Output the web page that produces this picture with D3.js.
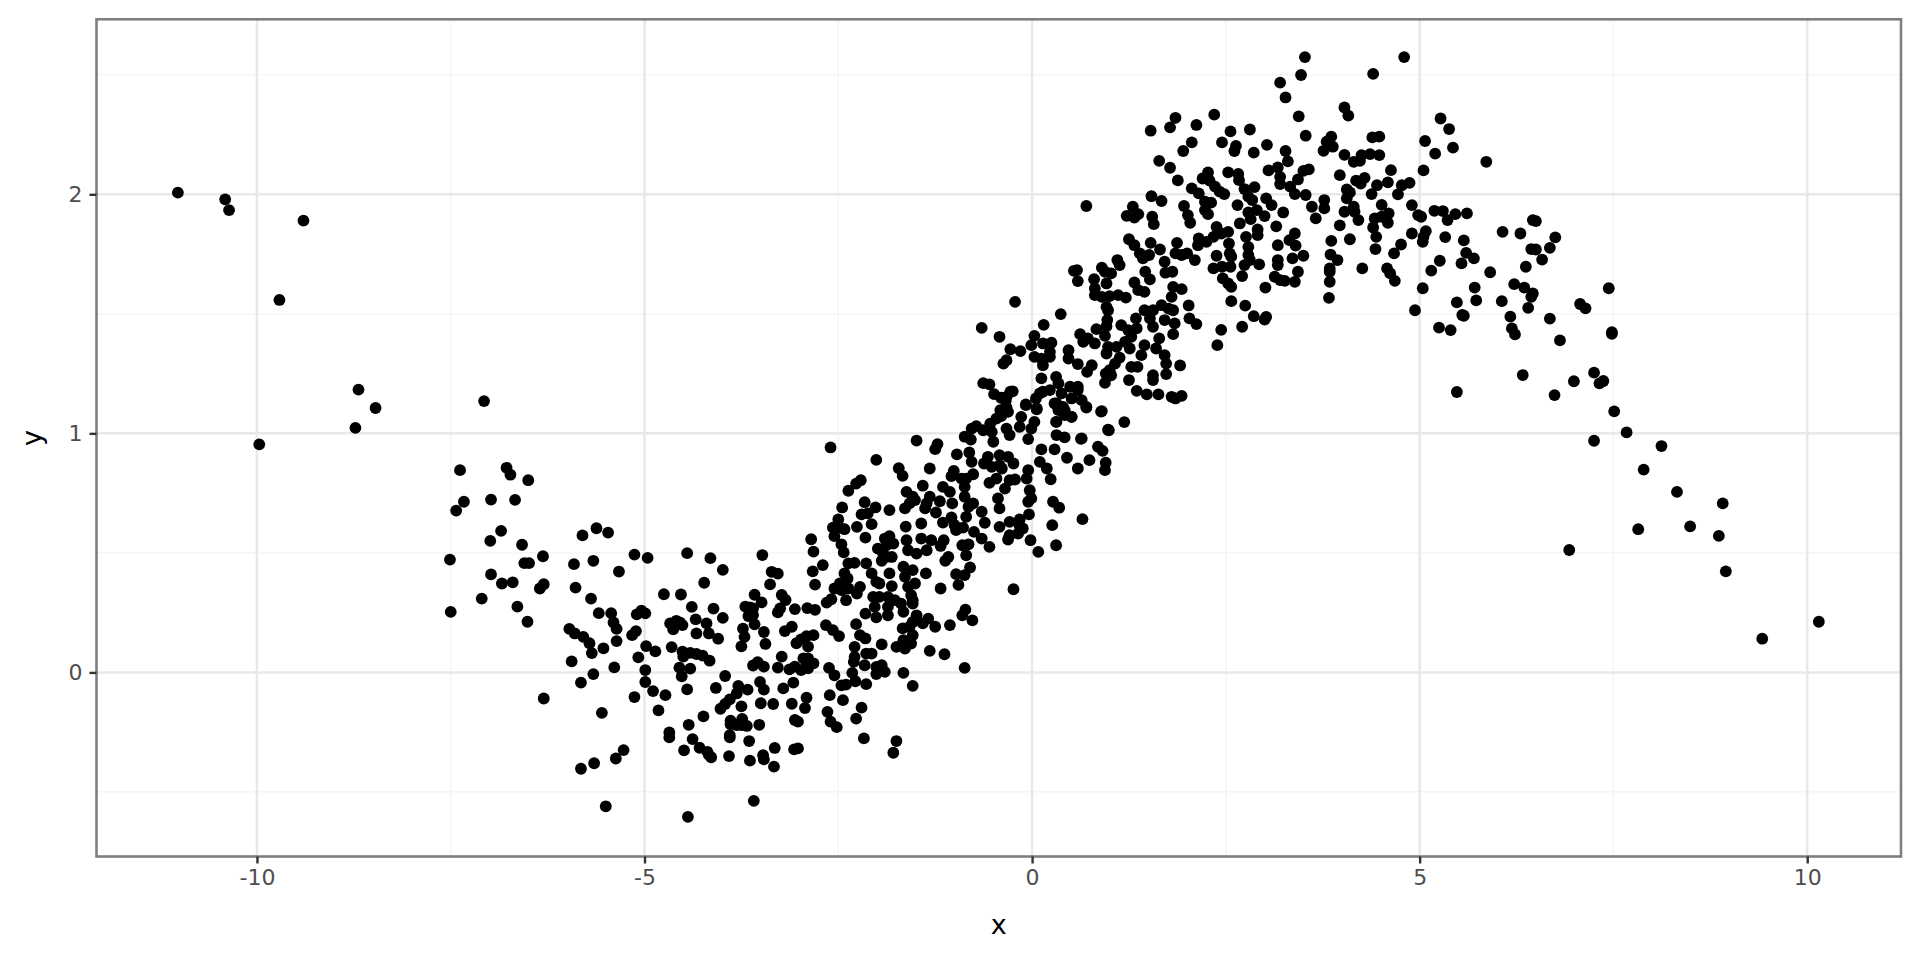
<!DOCTYPE html>
<html><head><meta charset="utf-8"><style>html,body{margin:0;padding:0;background:#fff}svg{display:block}text{font-family:"DejaVu Sans",sans-serif}</style>
<script src="https://cdn.jsdelivr.net/npm/d3@7"></script></head><body><div id="c"></div>
<script>
const xMajor=[-10,-5,0,5,10], xMinor=[-7.5,-2.5,2.5,7.5];
const yMajor=[0,1,2], yMinor=[-0.5,0.5,1.5,2.5];
const xDomain=[-12.07,11.21], yDomain=[-0.77,2.732];
const farLeft=[[-11.02,2.007],[-10.41,1.979],[-10.36,1.934],[-9.40,1.890],[-9.71,1.558],[-8.69,1.183],[-8.47,1.106],[-8.73,1.023],[-9.97,0.954],[-7.07,1.135],[-7.38,0.846],[-6.78,0.856],[-6.73,0.827],[-6.50,0.804],[-7.33,0.714],[-7.43,0.677],[-6.98,0.723],[-6.67,0.722],[-6.85,0.592],[-6.99,0.550],[-6.58,0.534],[-7.51,0.472],[-6.31,0.486],[-6.55,0.457],[-6.49,0.457],[-6.98,0.410],[-6.84,0.372],[-6.70,0.377],[-6.30,0.369],[-6.35,0.351],[-7.10,0.309],[-7.50,0.253],[-6.64,0.275],[-6.51,0.212],[-6.30,-0.109]];
const troughTop=[[-5.80,0.573],[-5.62,0.603],[-5.47,0.585],[-5.13,0.493],[-4.96,0.479],[-4.45,0.499],[-4.15,0.478],[-3.99,0.429],[-4.23,0.375],[-5.91,0.453],[-5.66,0.467],[-5.33,0.422],[-5.89,0.355],[-5.69,0.309],[-4.75,0.327],[-4.53,0.326],[-3.58,0.325],[-3.49,0.293],[-3.70,0.275],[-3.64,0.272],[-3.60,0.268],[-3.66,0.236],[-3.60,0.240],[-3.58,0.201],[-3.73,0.183],[-3.71,0.149],[-3.75,0.109],[-3.46,0.169],[-3.44,0.119],[-3.48,0.491],[-3.36,0.421],[-3.28,0.413],[-3.38,0.368],[-3.23,0.324],[-3.18,0.303],[-3.25,0.268],[-3.28,0.251],[-3.06,0.265],[-2.90,0.269],[-2.80,0.262],[-3.10,0.191],[-3.19,0.173],[-2.85,0.557],[-2.82,0.505],[-2.83,0.423],[-2.80,0.367]];
const troughMid=[[-5.59,0.248],[-5.43,0.248],[-5.40,0.209],[-5.36,0.182],[-5.04,0.258],[-5.10,0.243],[-4.99,0.247],[-5.97,0.182],[-5.90,0.163],[-5.79,0.149],[-5.71,0.122],[-5.68,0.081],[-5.53,0.101],[-5.36,0.131],[-5.11,0.173],[-5.16,0.156],[-5.94,0.046],[-5.39,0.021],[-5.66,-0.007],[-5.82,-0.043],[-5.55,-0.169],[-5.08,0.063],[-4.98,0.110],[-4.86,0.088],[-4.99,0.010],[-4.99,-0.040],[-4.89,-0.078],[-4.73,-0.095],[-5.13,-0.103],[-4.82,-0.159],[-4.65,0.106],[-4.51,0.087],[-4.50,0.066],[-4.41,0.082],[-4.33,0.077],[-4.25,0.070],[-4.16,0.049],[-4.55,0.020],[-4.41,0.016],[-4.52,-0.016],[-4.45,-0.071],[-4.67,0.205],[-4.59,0.216],[-4.54,0.208],[-4.63,0.180],[-4.51,0.198],[-4.39,0.274],[-4.34,0.222],[-4.20,0.205],[-4.11,0.267],[-3.99,0.228],[-4.33,0.163],[-4.17,0.163],[-4.05,0.141],[-3.04,0.122],[-2.98,0.138],[-2.91,0.152],[-2.82,0.156],[-2.89,0.108],[-3.23,0.066],[-3.60,0.029],[-3.54,0.043],[-3.46,0.024],[-3.28,0.020],[-3.13,0.013],[-3.06,0.024],[-2.95,0.059],[-2.89,0.059],[-2.98,0.010],[-2.89,0.017],[-2.82,0.038],[-2.91,0.038]];
const troughLow=[[-3.96,-0.015],[-4.08,-0.065],[-3.79,-0.056],[-3.67,-0.072],[-3.81,-0.088],[-3.90,-0.113],[-3.96,-0.132],[-4.02,-0.152],[-3.75,-0.142],[-4.24,-0.184],[-4.43,-0.219],[-4.68,-0.251],[-4.68,-0.272],[-4.38,-0.279],[-4.49,-0.326],[-4.29,-0.315],[-4.19,-0.332],[-4.14,-0.355],[-4.17,-0.345],[-3.91,-0.350],[-3.90,-0.272],[-3.90,-0.262],[-3.89,-0.202],[-3.89,-0.217],[-3.81,-0.220],[-3.74,-0.194],[-3.75,-0.220],[-3.68,-0.224],[-3.52,-0.219],[-3.65,-0.287],[-3.64,-0.369],[-3.47,-0.346],[-3.46,-0.364],[-3.32,-0.316],[-3.33,-0.394],[-3.07,-0.322],[-3.02,-0.318],[-3.06,-0.199],[-3.02,-0.206],[-2.93,-0.149],[-2.91,-0.106],[-3.10,-0.131],[-3.34,-0.132],[-3.50,-0.129],[-3.21,-0.067],[-3.08,-0.043],[-3.51,-0.040],[-3.46,-0.072],[-3.59,-0.537],[-5.50,-0.560],[-4.44,-0.604],[-5.82,-0.403],[-5.65,-0.380],[-5.37,-0.360],[-5.27,-0.325],[-2.52,-0.229],[-2.60,-0.206],[-2.17,-0.276],[-1.75,-0.287],[-1.79,-0.336]];
const riseLower=[[-2.60,0.941],[-2.01,0.889],[-1.49,0.970],[-1.22,0.955],[-1.25,0.934],[-1.72,0.854],[-1.67,0.822],[-1.32,0.853],[-2.21,0.804],[-2.27,0.790],[-2.37,0.760],[-1.41,0.781],[-1.62,0.755],[-1.54,0.735],[-1.51,0.721],[-1.58,0.707],[-1.64,0.686],[-2.45,0.690],[-2.16,0.712],[-2.02,0.690],[-2.20,0.661],[-2.12,0.665],[-2.07,0.620],[-1.84,0.679],[-2.50,0.640],[-2.57,0.606],[-2.48,0.606],[-2.42,0.599],[-2.55,0.570],[-2.26,0.609],[-2.15,0.564],[-2.46,0.536],[-2.43,0.502],[-2.70,0.449],[-1.63,0.610],[-1.43,0.623],[-1.84,0.570],[-1.90,0.560],[-1.99,0.518],[-1.88,0.532],[-1.79,0.539],[-1.92,0.497],[-1.88,0.483],[-1.81,0.483],[-1.94,0.467],[-1.62,0.553],[-1.60,0.511],[-1.49,0.497],[-1.43,0.560],[-1.30,0.553],[-1.36,0.511],[-1.14,0.553],[-1.18,0.529],[-1.08,0.483],[-1.12,0.467],[-0.90,0.532],[-0.82,0.536],[-0.85,0.490],[-0.80,0.439],[-0.87,0.407],[-0.98,0.411],[-0.95,0.366],[-1.18,0.351],[-1.37,0.414],[-0.24,0.348],[-0.86,0.263],[-0.90,0.239],[-0.77,0.218],[-1.06,0.198],[-2.37,0.456],[-2.29,0.458],[-2.14,0.456],[-2.42,0.414],[-2.38,0.393],[-2.07,0.414],[-2.01,0.379],[-1.97,0.372],[-1.84,0.414],[-1.66,0.442],[-1.54,0.428],[-1.64,0.400],[-1.60,0.358],[-1.51,0.372],[-1.81,0.361],[-2.22,0.358],[-2.26,0.330],[-2.48,0.372],[-2.55,0.351],[-2.46,0.344],[-2.37,0.351],[-2.40,0.302],[-2.59,0.306],[-2.65,0.292],[-1.97,0.316],[-2.05,0.316],[-2.03,0.274],[-1.86,0.316],[-1.77,0.302],[-1.86,0.274],[-1.69,0.288],[-1.54,0.302],[-1.56,0.323],[-1.54,0.288],[-1.66,0.253],[-2.15,0.246],[-2.01,0.230],[-1.86,0.239],[-1.49,0.239],[-1.54,0.211],[-1.34,0.225],[-1.41,0.205],[-1.25,0.191],[-1.67,0.184],[-1.58,0.191],[-1.54,0.156],[-1.56,0.121],[-1.66,0.135],[-1.64,0.100],[-1.75,0.107],[-1.94,0.117],[-1.32,0.090],[-1.13,0.076],[-0.87,0.019],[-1.66,-0.002],[-1.54,-0.056],[-2.66,0.198],[-2.57,0.177],[-2.49,0.152],[-2.27,0.202],[-2.22,0.156],[-2.15,0.142],[-2.29,0.107],[-2.29,0.065],[-2.30,0.044],[-2.14,0.079],[-2.07,0.079],[-2.16,0.030],[-2.01,0.023],[-1.94,0.030],[-1.90,0.002],[-2.01,-0.007],[-2.62,0.019],[-2.55,-0.012],[-2.32,-0.002],[-2.28,-0.037],[-2.14,-0.049],[-2.46,-0.054],[-2.40,-0.051],[-2.61,-0.095],[-2.44,-0.116],[-2.20,-0.147],[-2.64,-0.165],[-2.27,-0.193]];
const riseMiddle=[[-0.87,0.986],[-0.79,0.974],[-0.72,1.030],[-0.78,1.020],[-0.63,1.013],[-0.54,1.041],[-0.46,1.062],[-0.40,1.072],[-0.31,1.090],[-0.52,1.006],[-0.50,0.965],[-0.33,1.020],[-0.29,0.993],[-0.14,1.069],[-0.16,1.027],[-0.05,0.976],[0.03,1.048],[-0.01,1.020],[-0.08,1.118],[0.06,1.100],[-0.34,1.135],[0.315,1.125],[0.315,1.048],[0.42,1.097],[0.51,1.069],[0.70,1.111],[0.90,1.093],[0.99,1.013],[0.315,0.993],[0.42,0.983],[0.29,0.933],[0.64,0.979],[0.12,0.933],[0.45,0.898],[0.10,0.881],[0.19,0.853],[0.24,0.808],[-0.05,0.846],[-0.07,0.811],[-0.03,0.762],[-0.01,0.728],[-0.05,0.714],[0.59,0.853],[0.74,0.888],[0.85,0.944],[0.91,0.927],[0.95,0.877],[0.94,0.846],[0.27,0.714],[0.35,0.689],[0.65,0.641],[0.26,0.616],[0.31,0.532],[0.08,0.504],[-0.02,0.553],[-0.04,0.661],[-0.16,0.640],[-0.12,0.602],[-0.18,0.581],[-0.29,0.574],[-0.31,0.556],[-0.29,0.630],[-0.42,0.609],[-0.16,0.612],[-0.44,0.728],[-0.42,0.686],[-0.35,0.769],[-0.22,0.807],[-0.29,0.804],[-0.46,0.811],[-0.55,0.793],[-0.57,0.902],[-0.62,0.874],[-0.52,0.860],[-0.42,0.909],[-0.31,0.902],[-0.24,0.874],[-0.42,0.867],[-0.39,0.853],[-0.81,0.920],[-0.78,0.881],[-0.97,0.912],[-1.01,0.843],[-1.04,0.821],[-0.76,0.829],[-0.85,0.811],[-0.91,0.811],[-0.87,0.776],[-0.87,0.735],[-1.15,0.776],[-1.06,0.755],[-1.19,0.716],[-1.03,0.707],[-1.32,0.735],[-1.36,0.707],[-1.38,0.686],[-1.24,0.669],[-0.76,0.707],[-0.82,0.693],[-0.65,0.672],[-0.85,0.651],[-1.15,0.627],[-1.04,0.648],[-0.999,0.616],[-0.98,0.595],[-0.89,0.606],[-0.61,0.626],[-0.75,0.588],[-0.65,0.560],[-0.55,0.525],[-0.33,1.153],[-0.65,1.441],[-0.63,1.210],[-0.55,1.205],[-0.49,1.164],[-0.40,1.149],[-0.28,1.174],[-0.41,1.097],[-0.33,1.108]];
const riseUpper=[[-0.22,1.550],[0.37,1.499],[0.15,1.454],[0.54,1.680],[0.58,1.683],[0.59,1.637],[0.90,1.693],[0.94,1.676],[1.10,1.725],[1.13,1.704],[1.02,1.669],[0.96,1.627],[0.80,1.645],[0.81,1.606],[0.81,1.578],[0.90,1.571],[1.00,1.574],[1.11,1.578],[1.21,1.568],[0.96,1.529],[0.98,1.515],[0.97,1.474],[0.96,1.448],[1.25,1.812],[1.32,1.787],[1.39,1.753],[1.43,1.732],[1.51,1.746],[1.53,1.797],[1.65,1.769],[1.87,1.797],[1.85,1.753],[1.93,1.746],[2.00,1.753],[2.10,1.725],[1.71,1.718],[1.72,1.672],[1.81,1.676],[1.46,1.676],[1.52,1.644],[1.32,1.631],[1.37,1.599],[1.45,1.592],[1.82,1.613],[1.93,1.603],[1.80,1.571],[2.02,1.535],[1.45,1.515],[1.56,1.515],[1.67,1.536],[1.76,1.522],[1.82,1.515],[1.52,1.481],[1.71,1.474],[1.84,1.460],[1.56,1.446],[1.34,1.481],[2.03,1.481],[2.12,1.457],[1.82,1.415],[1.15,1.453],[1.24,1.432],[1.35,1.439],[1.28,1.404],[1.20,1.383],[1.26,1.355],[1.09,1.362],[0.98,1.362],[0.96,1.334],[1.13,1.317],[0.83,1.436],[0.94,1.408],[0.62,1.415],[0.66,1.383],[0.81,1.376],[0.72,1.397],[1.64,1.397],[1.45,1.369],[1.60,1.355],[1.41,1.327],[1.71,1.327],[1.73,1.292],[1.91,1.284],[1.73,1.248],[1.07,1.292],[1.00,1.264],[0.95,1.250],[0.94,1.211],[1.02,1.243],[1.28,1.278],[1.36,1.278],[1.25,1.223],[1.56,1.243],[1.56,1.223],[1.35,1.178],[1.48,1.163],[1.63,1.163],[1.80,1.153],[1.85,1.146],[1.93,1.157],[0.77,1.285],[0.71,1.257],[0.47,1.348],[0.47,1.313],[0.59,1.290],[0.03,1.408],[-0.01,1.369],[0.14,1.376],[0.25,1.379],[0.23,1.341],[0.03,1.320],[0.12,1.313],[0.14,1.285],[0.23,1.320],[-0.28,1.352],[-0.15,1.344],[-0.33,1.306],[-0.37,1.292],[-0.42,1.404],[0.12,1.230],[0.31,1.236],[0.34,1.209],[0.23,1.181],[0.10,1.167],[0.14,1.174],[0.05,1.146],[0.38,1.167],[0.49,1.195],[0.59,1.195],[0.51,1.146],[0.64,1.139],[0.70,1.108],[0.59,1.181],[-0.25,1.176],[-0.08,1.121],[0.06,1.104],[0.29,1.125],[0.40,1.111],[0.34,1.097],[0.42,1.076],[0.51,1.069],[0.31,1.048],[0.89,1.091],[1.19,1.047],[0.98,1.015],[0.63,0.977]];
const crestLeft=[[3.27,2.405],[3.44,2.326],[3.53,2.245],[2.35,2.333],[1.85,2.320],[1.78,2.280],[1.53,2.266],[2.12,2.290],[2.56,2.263],[2.81,2.271],[2.06,2.217],[1.95,2.181],[2.45,2.217],[2.63,2.202],[2.61,2.181],[2.86,2.174],[3.03,2.207],[3.27,2.181],[3.30,2.138],[1.64,2.140],[1.78,2.111],[1.88,2.058],[2.27,2.092],[2.20,2.066],[2.29,2.057],[2.36,2.032],[2.42,2.011],[2.48,2.001],[2.53,2.092],[2.66,2.085],[2.67,2.059],[2.74,2.022],[2.87,2.030],[2.79,1.990],[2.84,1.976],[3.05,2.100],[3.17,2.112],[3.20,2.073],[3.20,2.043],[3.57,2.104],[3.50,2.098],[3.43,2.062],[3.33,2.032],[3.39,2.001],[3.53,1.997],[3.61,1.948],[3.66,1.899],[2.06,2.025],[2.15,2.004],[1.54,1.992],[1.67,1.972],[0.70,1.951],[1.30,1.948],[1.22,1.910],[1.37,1.917],[1.32,1.903],[1.55,1.906],[1.57,1.875],[1.96,1.951],[2.01,1.913],[2.04,1.881],[2.23,1.969],[2.31,1.965],[2.23,1.934],[2.27,1.917],[2.65,1.955],[3.02,1.983],[3.09,1.955],[2.79,1.924],[2.90,1.934],[3.00,1.909],[2.82,1.896],[3.24,1.924],[2.68,1.878],[3.15,1.866],[2.91,1.853],[2.91,1.829],[2.38,1.864],[2.53,1.843],[2.44,1.836],[2.34,1.822],[2.25,1.801],[2.15,1.815],[2.14,1.787],[2.76,1.822],[2.54,1.794],[2.79,1.780],[2.55,1.753],[2.79,1.746],[2.81,1.725],[2.74,1.704],[2.93,1.707],[2.57,1.739],[3.39,1.836],[3.32,1.808],[3.40,1.785],[3.50,1.743],[3.36,1.732],[3.17,1.787],[3.17,1.725],[3.17,1.704],[3.43,1.676],[3.39,1.634],[3.26,1.638],[3.13,1.655],[3.20,1.641],[3.01,1.610],[2.71,1.658],[2.38,1.743],[2.34,1.690],[2.45,1.697],[2.56,1.697],[2.46,1.648],[2.53,1.627],[2.57,1.613],[2.57,1.553],[2.75,1.534],[2.86,1.490],[3.02,1.487],[3.00,1.476],[2.71,1.446],[2.44,1.433],[2.39,1.369]];
const crestRight=[[3.52,2.574],[3.47,2.499],[3.20,2.467],[4.40,2.504],[4.80,2.574],[4.03,2.363],[4.08,2.329],[5.27,2.317],[5.38,2.273],[5.43,2.195],[5.07,2.223],[5.20,2.170],[5.86,2.136],[5.05,2.100],[3.86,2.241],[3.80,2.220],[3.88,2.199],[3.76,2.182],[4.39,2.238],[4.48,2.241],[4.03,2.165],[4.15,2.136],[4.23,2.140],[4.25,2.164],[4.36,2.168],[4.48,2.164],[4.63,2.101],[3.97,2.080],[4.18,2.057],[4.24,2.045],[4.29,2.069],[4.45,2.038],[4.38,2.001],[4.59,2.050],[4.87,2.048],[4.77,2.038],[4.72,2.000],[3.77,1.976],[3.77,1.941],[4.06,2.020],[4.10,2.008],[4.06,1.983],[4.51,1.956],[4.90,1.955],[4.03,1.927],[4.15,1.948],[4.16,1.927],[4.21,1.892],[3.97,1.870],[4.60,1.920],[4.51,1.906],[4.42,1.899],[4.59,1.881],[4.40,1.861],[4.44,1.822],[4.98,1.913],[5.02,1.906],[5.19,1.931],[5.30,1.930],[5.36,1.892],[5.46,1.917],[5.61,1.920],[4.90,1.836],[5.08,1.846],[5.05,1.822],[5.04,1.801],[5.33,1.821],[5.57,1.807],[4.76,1.790],[4.67,1.753],[4.43,1.771],[4.10,1.812],[3.86,1.805],[3.85,1.748],[3.94,1.725],[3.84,1.690],[3.84,1.676],[3.84,1.634],[3.83,1.567],[4.26,1.690],[4.58,1.690],[4.62,1.669],[4.68,1.638],[5.04,1.607],[4.94,1.515]];
const fallRight=[[5.15,1.681],[5.26,1.722],[5.54,1.711],[5.60,1.755],[5.70,1.732],[5.91,1.674],[6.07,1.843],[6.30,1.836],[6.46,1.892],[6.50,1.888],[6.44,1.771],[6.50,1.769],[6.37,1.697],[6.22,1.624],[6.35,1.610],[6.44,1.571],[6.40,1.525],[6.46,1.585],[6.06,1.553],[6.17,1.488],[6.19,1.439],[6.23,1.414],[5.71,1.610],[5.73,1.556],[5.48,1.548],[5.55,1.495],[5.57,1.492],[5.25,1.442],[5.40,1.432],[5.48,1.173],[6.33,1.244],[6.74,1.160],[6.68,1.480],[6.81,1.389],[6.75,1.820],[6.68,1.776],[6.58,1.727],[7.44,1.607],[7.07,1.541],[7.14,1.523],[7.48,1.423],[7.48,1.416],[7.25,1.254],[6.99,1.218],[7.32,1.209],[7.37,1.219],[7.51,1.092],[7.67,1.004],[7.25,0.969],[8.12,0.947],[7.89,0.848],[8.32,0.755],[8.91,0.707],[8.49,0.611],[7.82,0.599],[8.86,0.571],[6.93,0.512],[8.95,0.423],[10.15,0.212],[9.42,0.141]];
const allPoints=[].concat(farLeft,troughTop,troughMid,troughLow,riseLower,riseMiddle,riseUpper,crestLeft,crestRight,fallRight);

const W=1920,H=960,L=96.5,R=1901,T=19.3,B=856.5;
const x=d3.scaleLinear().domain(xDomain).range([L,R]);
const y=d3.scaleLinear().domain(yDomain).range([B,T]);
const svg=d3.select('#c').append('svg').attr('width',W).attr('height',H);
svg.append('rect').attr('width',W).attr('height',H).attr('fill','#fff');
const grid=svg.append('g');
grid.selectAll('.xm').data(xMinor).join('line').attr('x1',d=>x(d)).attr('x2',d=>x(d)).attr('y1',T).attr('y2',B).attr('stroke','#f3f3f3').attr('stroke-width',1.2);
grid.selectAll('.ym').data(yMinor).join('line').attr('y1',d=>y(d)).attr('y2',d=>y(d)).attr('x1',L).attr('x2',R).attr('stroke','#f3f3f3').attr('stroke-width',1.2);
grid.selectAll('.xM').data(xMajor).join('line').attr('x1',d=>x(d)).attr('x2',d=>x(d)).attr('y1',T).attr('y2',B).attr('stroke','#e8e8e8').attr('stroke-width',2.5);
grid.selectAll('.yM').data(yMajor).join('line').attr('y1',d=>y(d)).attr('y2',d=>y(d)).attr('x1',L).attr('x2',R).attr('stroke','#e8e8e8').attr('stroke-width',2.5);
svg.append('g').selectAll('circle').data(allPoints).join('circle').attr('cx',d=>x(d[0])).attr('cy',d=>y(d[1])).attr('r',5.9).attr('fill','#000');
svg.append('rect').attr('x',L).attr('y',T).attr('width',R-L).attr('height',B-T).attr('fill','none').attr('stroke','#7f7f7f').attr('stroke-width',2.6);
const ax=svg.append('g').attr('transform',`translate(0,${B})`).call(d3.axisBottom(x).tickValues(xMajor).tickFormat(d3.format('d')).tickSize(7).tickPadding(6));
const ay=svg.append('g').attr('transform',`translate(${L},0)`).call(d3.axisLeft(y).tickValues(yMajor).tickFormat(d3.format('d')).tickSize(7).tickPadding(7));
[ax,ay].forEach(a=>{a.select('.domain').remove();a.selectAll('line').attr('stroke','#333').attr('stroke-width',2.4);a.selectAll('text').attr('fill','#4d4d4d').style('font-size','22px').style('font-family','"DejaVu Sans"');});
ax.selectAll('text').text(d=>String(d));
svg.append('text').attr('x',(L+R)/2).attr('y',934).attr('text-anchor','middle').attr('font-size',27).attr('fill','#000').text('x');
svg.append('text').attr('transform',`translate(41,${(T+B)/2}) rotate(-90)`).attr('text-anchor','middle').attr('font-size',27).attr('fill','#000').text('y');
</script></body></html>
